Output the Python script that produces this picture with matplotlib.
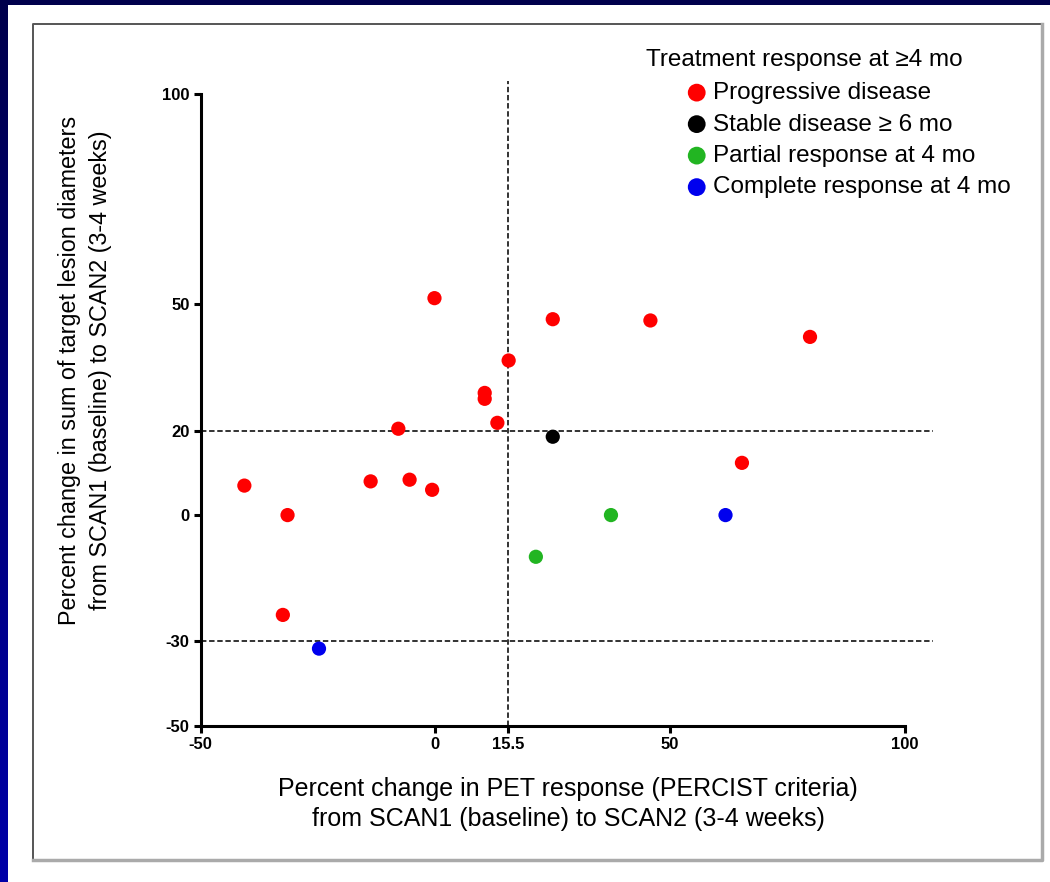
import matplotlib
matplotlib.use("Agg")
import matplotlib.pyplot as plt
from matplotlib.patches import Rectangle
from matplotlib.lines import Line2D
import numpy as np

plt.rcParams['font.family'] = ['Liberation Sans', 'DejaVu Sans']
plt.rcParams['axes.unicode_minus'] = False

# Data: (PET % change, lesion diameter % change)
prog_x = [-0.2, 25.0, 45.8, 79.8, 15.6, 10.5, 10.5, 13.2, -7.9, -40.7, -31.5, -13.8, -5.5, -0.7, -32.5, 65.3]
prog_y = [51.5, 46.5, 46.2, 42.3, 36.7, 29.0, 27.6, 21.9, 20.5, 7.0, 0.0, 8.0, 8.4, 6.0, -23.7, 12.4]
stable_x = [25.0]
stable_y = [18.6]
partial_x = [37.4, 21.4]
partial_y = [0.0, -9.9]
complete_x = [61.8, -24.8]
complete_y = [0.0, -31.7]

x_ticks = [-50, 0, 15.5, 50, 100]
x_ticklabels = ["-50", "0", "15.5", "50", "100"]
y_ticks = [-50, -30, 0, 20, 50, 100]
x_cut = 15.5
y_cuts = [20, -30]

W, H = 1050, 882
fig = plt.figure(figsize=(W / 100, H / 100), dpi=100)
fig.patch.set_facecolor("#00004c")

# left blue strip with gradient
gax = fig.add_axes([0, 0, 7 / W, 1])
grad = np.linspace(0, 1, 256).reshape(-1, 1)
gax.imshow(grad, aspect="auto", cmap=matplotlib.colors.LinearSegmentedColormap.from_list("b", ["#00004c", "#0000a8"]))
gax.axis("off")

# white panel
fig.patches.append(Rectangle((7 / W, 0), 1 - 7 / W, 1 - 5 / H, transform=fig.transFigure,
                             facecolor="white", edgecolor="none", zorder=-10))
# inner frame
x0, x1, y0, y1 = 33 / W, 1042 / W, 1 - 860 / H, 1 - 24 / H
fig.lines.append(Line2D([x0, x0, x1], [y0, y1, y1], transform=fig.transFigure, color="#555555", lw=1.4))
fig.lines.append(Line2D([x0, x1, x1], [y0, y0, y1], transform=fig.transFigure, color="#aaaaaa", lw=2.5))

ax = fig.add_axes([200.7 / W, 1 - 725.7 / H, (933 - 200.7) / W, (725.7 - 77) / H])
ax.set_xlim(-50, 106)
ax.set_ylim(-50, 104)
ax.patch.set_alpha(0)

for s in ["top", "right"]:
    ax.spines[s].set_visible(False)
for s in ["left", "bottom"]:
    ax.spines[s].set_linewidth(2.2)
ax.spines["left"].set_bounds(-50, 100)
ax.spines["bottom"].set_bounds(-50, 100)

ax.set_xticks(x_ticks)
ax.set_xticklabels(x_ticklabels)
ax.set_yticks(y_ticks)
ax.tick_params(width=2.2, length=5, labelsize=12, pad=3)
for lab in ax.get_xticklabels() + ax.get_yticklabels():
    lab.set_fontweight("bold")

# threshold lines
ax.plot([x_cut, x_cut], [-50, 103], color="#222222", lw=1.3, ls=(0, (3, 1.5)), zorder=1)
for yc in y_cuts:
    ax.plot([-50, 106], [yc, yc], color="#222222", lw=1.3, ls=(0, (3, 1.5)), zorder=1)

ms = 105
ax.scatter(prog_x, prog_y, s=ms, color="#ff0000", edgecolors="none", zorder=3, label="Progressive disease")
ax.scatter(stable_x, stable_y, s=ms, color="#000000", edgecolors="none", zorder=3, label="Stable disease \u2265 6 mo")
ax.scatter(partial_x, partial_y, s=ms, color="#22b522", edgecolors="none", zorder=3, label="Partial response at 4 mo")
ax.scatter(complete_x, complete_y, s=ms, color="#0000ee", edgecolors="none", zorder=3, label="Complete response at 4 mo")

leg = fig.legend(loc="upper left", bbox_to_anchor=(687 / W, 1 - 82 / H), frameon=False,
                 fontsize=17.5, handlelength=0.8, handletextpad=0.26, labelspacing=0.39,
                 borderpad=0, borderaxespad=0, markerscale=1.25)
fig.text(646 / W, 1 - 60 / H, "Treatment response at \u22654 mo", fontsize=17.5, ha="left", va="center")

fig.text(85 / W, 1 - 370 / H,
         "Percent change in sum of target lesion diameters\nfrom SCAN1 (baseline) to SCAN2 (3-4 weeks)",
         fontsize=16.8, rotation=90, ha="center", va="center", multialignment="center", linespacing=1.45)
fig.text(568 / W, 1 - 804 / H,
         "Percent change in PET response (PERCIST criteria)\nfrom SCAN1 (baseline) to SCAN2 (3-4 weeks)",
         fontsize=18, ha="center", va="center", multialignment="center", linespacing=1.28)

fig.savefig("out.png", dpi=100, facecolor=fig.get_facecolor())
